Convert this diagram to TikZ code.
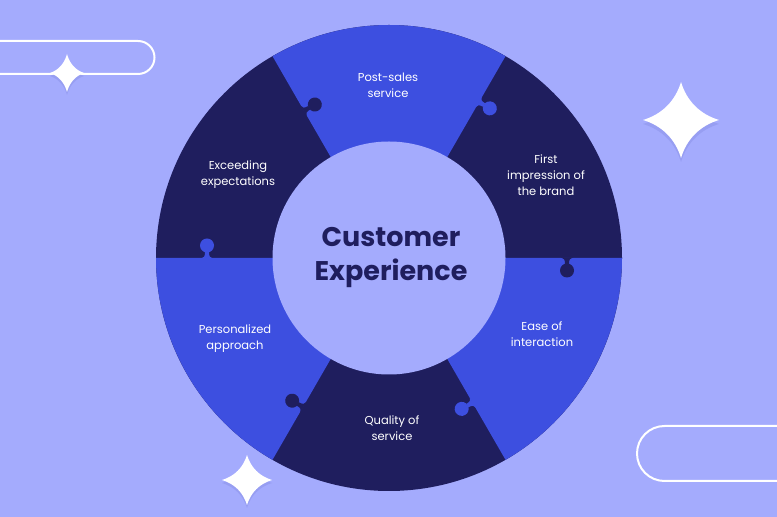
\documentclass[tikz,border=0pt]{standalone}
\usepackage{fontspec}
\setmainfont{Poppins}
\usepackage{tikz}
\usetikzlibrary{positioning}
\definecolor{bgpurple}{HTML}{A4ABFD}
\definecolor{segblue}{HTML}{3D4FE0}
\definecolor{segdark}{HTML}{1F1E5E}
\definecolor{starshadow}{HTML}{7F86E0}

\begin{document}
\begin{tikzpicture}[x=1pt,y=1pt,
  steplabel/.style={align=center,text=white,font=\fontsize{11.5}{16}\selectfont},
  hubtitle/.style={align=center,text=segdark,font=\fontsize{27}{34}\selectfont\bfseries},
  pill/.style={draw=white,line width=2pt},
  sparkle/.style={fill=white},
  sparkleshadow/.style={fill=starshadow,fill opacity=0.35}]
\fill[bgpurple] (0,0) rectangle (777,517);
\useasboundingbox (0,0) rectangle (777,517);
% outlined pills
\draw[pill] (-5,476) -- (138,476) arc (90:-90:16.5) -- (-5,443);
\draw[pill] (785,91) -- (664.5,91) arc (90:270:27.5) -- (785,36);
% ring of six pieces
\fill[segdark] (389,259) circle (233);
\fill[segblue] (389,259) -- ++(60:233) arc (60:120:233) -- cycle;
\fill[segblue] (389,259) -- ++(180:233) arc (180:240:233) -- cycle;
\fill[segblue] (389,259) -- ++(300:233) arc (300:360:233) -- cycle;
% puzzle knobs
\begin{scope}[shift={(389,259)},rotate=0]
\fill[segdark] (172,0.5) .. controls (175,0.5) and (176,-2) .. (176,-6) -- (180,-6) .. controls (180,-2) and (181,0.5) .. (184,0.5) -- cycle;
\fill[segdark] (178,-12.5) circle (7);
\end{scope}
\begin{scope}[shift={(389,259)},rotate=60]
\fill[segblue] (174,0.5) .. controls (177,0.5) and (178,-2) .. (178,-6) -- (182,-6) .. controls (182,-2) and (183,0.5) .. (186,0.5) -- cycle;
\fill[segblue] (180,-12.5) circle (7);
\end{scope}
\begin{scope}[shift={(389,259)},rotate=120]
\fill[segdark] (164,0.5) .. controls (167,0.5) and (168,-2) .. (168,-6) -- (172,-6) .. controls (172,-2) and (173,0.5) .. (176,0.5) -- cycle;
\fill[segdark] (170,-12.5) circle (7);
\end{scope}
\begin{scope}[shift={(389,259)},rotate=180]
\fill[segblue] (176,0.5) .. controls (179,0.5) and (180,-2) .. (180,-6) -- (184,-6) .. controls (184,-2) and (185,0.5) .. (188,0.5) -- cycle;
\fill[segblue] (182,-12.5) circle (7);
\end{scope}
\begin{scope}[shift={(389,259)},rotate=240]
\fill[segdark] (166,0.5) .. controls (169,0.5) and (170,-2) .. (170,-6) -- (174,-6) .. controls (174,-2) and (175,0.5) .. (178,0.5) -- cycle;
\fill[segdark] (172,-12.5) circle (7);
\end{scope}
\begin{scope}[shift={(389,259)},rotate=300]
\fill[segblue] (161,0.5) .. controls (164,0.5) and (165,-2) .. (165,-6) -- (169,-6) .. controls (169,-2) and (170,0.5) .. (173,0.5) -- cycle;
\fill[segblue] (167,-12.5) circle (7);
\end{scope}
% hub
\fill[bgpurple] (389,259) circle (116.5);
\node at (391,259)[hubtitle](custexp){Customer\\Experience};
% piece labels
\node at (388,432)[steplabel](postsales){Post-sales\\service};
\node at (546,342)[steplabel](firstimpr){First\\impression of\\the brand};
\node at (238,342)[steplabel](exceeding){Exceeding\\expectations};
\node at (235,178)[steplabel](personal){Personalized\\approach};
\node at (542,183)[steplabel](easeint){Ease of\\interaction};
\node at (392,89)[steplabel](quality){Quality of\\service};
% sparkles
\begin{scope}[shift={(681,393)},scale=38]
\fill[sparkleshadow] (0,1) .. controls (0.15,0.5) and (0.5,0.15) .. (1,0) .. controls (0.5,-0.15) and (0.15,-0.5) .. (0,-1) .. controls (-0.15,-0.5) and (-0.5,-0.15) .. (-1,0) .. controls (-0.5,0.15) and (-0.15,0.5) .. (0,1) -- cycle;
\end{scope}
\begin{scope}[shift={(681,397)},scale=38]
\fill[sparkle] (0,1) .. controls (0.15,0.5) and (0.5,0.15) .. (1,0) .. controls (0.5,-0.15) and (0.15,-0.5) .. (0,-1) .. controls (-0.15,-0.5) and (-0.5,-0.15) .. (-1,0) .. controls (-0.5,0.15) and (-0.15,0.5) .. (0,1) -- cycle;
\end{scope}
\begin{scope}[shift={(67,441)},xscale=17,yscale=19]
\fill[sparkleshadow] (0,1) .. controls (0.15,0.5) and (0.5,0.15) .. (1,0) .. controls (0.5,-0.15) and (0.15,-0.5) .. (0,-1) .. controls (-0.15,-0.5) and (-0.5,-0.15) .. (-1,0) .. controls (-0.5,0.15) and (-0.15,0.5) .. (0,1) -- cycle;
\end{scope}
\begin{scope}[shift={(67,444)},xscale=17,yscale=19]
\fill[sparkle] (0,1) .. controls (0.15,0.5) and (0.5,0.15) .. (1,0) .. controls (0.5,-0.15) and (0.15,-0.5) .. (0,-1) .. controls (-0.15,-0.5) and (-0.5,-0.15) .. (-1,0) .. controls (-0.5,0.15) and (-0.15,0.5) .. (0,1) -- cycle;
\end{scope}
\begin{scope}[shift={(247,34)},scale=25]
\fill[sparkleshadow] (0,1) .. controls (0.15,0.5) and (0.5,0.15) .. (1,0) .. controls (0.5,-0.15) and (0.15,-0.5) .. (0,-1) .. controls (-0.15,-0.5) and (-0.5,-0.15) .. (-1,0) .. controls (-0.5,0.15) and (-0.15,0.5) .. (0,1) -- cycle;
\end{scope}
\begin{scope}[shift={(247,37)},scale=25]
\fill[sparkle] (0,1) .. controls (0.15,0.5) and (0.5,0.15) .. (1,0) .. controls (0.5,-0.15) and (0.15,-0.5) .. (0,-1) .. controls (-0.15,-0.5) and (-0.5,-0.15) .. (-1,0) .. controls (-0.5,0.15) and (-0.15,0.5) .. (0,1) -- cycle;
\end{scope}
\end{tikzpicture}
\end{document}
